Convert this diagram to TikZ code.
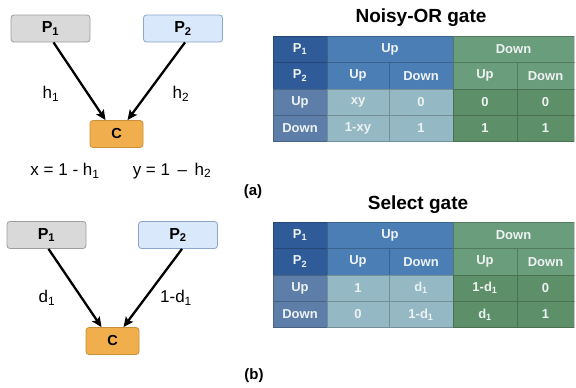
\documentclass[tikz,border=0pt]{standalone}
\usepackage{fontspec}
\setmainfont{Liberation Sans}
\usetikzlibrary{arrows.meta}
\definecolor{pgray}{HTML}{D9D9D9}
\definecolor{pgrayd}{HTML}{9E9E9E}
\definecolor{pblue}{HTML}{DAE8FC}
\definecolor{pblued}{HTML}{8DA5C8}
\definecolor{corange}{HTML}{F0AE4C}
\definecolor{coranged}{HTML}{C99138}
\definecolor{tcorner}{HTML}{2F5B98}
\definecolor{tuph}{HTML}{4A7EB4}
\definecolor{tdownh}{HTML}{6A9D7B}
\definecolor{trowh}{HTML}{5C7EA9}
\definecolor{tupb}{HTML}{94B9C4}
\definecolor{tdownb}{HTML}{5D9069}
\definecolor{ttext}{HTML}{EEF2F2}
\newcommand{\gtable}[9]{%
  \node[cell,fill=tcorner,minimum width=54] (#1p1) at (300,13.2) {P\textsubscript{1}};
  \node[cell,fill=tuph,minimum width=126] (#1up) at (390,13.2) {Up};
  \node[cell,fill=tdownh,minimum width=121] (#1down) at (513.5,13.2) {Down};
  \node[cell,fill=tcorner,minimum width=54] (#1p2) at (300,39.6) {P\textsubscript{2}};
  \node[cell,fill=tuph,minimum width=62] (#1uu) at (358,39.6) {Up};
  \node[cell,fill=tuph,minimum width=64] (#1ud) at (421,39.6) {Down};
  \node[cell,fill=tdownh,minimum width=64] (#1du) at (485,39.6) {Up};
  \node[cell,fill=tdownh,minimum width=57] (#1dd) at (545.5,39.6) {Down};
  \node[cell,fill=trowh,minimum width=54] (#1r1) at (300,66) {Up};
  \node[cell,fill=tupb,minimum width=62] (#1c11) at (358,66) {#2};
  \node[cell,fill=tupb,minimum width=64] (#1c12) at (421,66) {#3};
  \node[cell,fill=tdownb,minimum width=64] (#1c13) at (485,66) {#4};
  \node[cell,fill=tdownb,minimum width=57] (#1c14) at (545.5,66) {#5};
  \node[cell,fill=trowh,minimum width=54] (#1r2) at (300,92.4) {Down};
  \node[cell,fill=tupb,minimum width=62] (#1c21) at (358,92.4) {#6};
  \node[cell,fill=tupb,minimum width=64] (#1c22) at (421,92.4) {#7};
  \node[cell,fill=tdownb,minimum width=64] (#1c23) at (485,92.4) {#8};
  \node[cell,fill=tdownb,minimum width=57] (#1c24) at (545.5,92.4) {#9};
}
\begin{document}
\begin{tikzpicture}[x=1pt,y=-1pt,
  box/.style={draw, rounded corners=3pt, line width=0.8pt, minimum width=79, minimum height=27, inner sep=0pt, font=\bfseries\fontsize{16}{18}\selectfont},
  pone/.style={box, fill=pgray, draw=pgrayd},
  ptwo/.style={box, fill=pblue, draw=pblued},
  cbox/.style={box, fill=corange, draw=coranged, minimum width=53, font=\bfseries\fontsize{14.5}{16}\selectfont},
  lbl/.style={font=\fontsize{17}{19}\selectfont, inner sep=0pt},
  cell/.style={draw=black, draw opacity=0.22, line width=0.6pt, minimum height=26.4, inner sep=0pt, text=ttext, font=\bfseries\fontsize{13}{15}\selectfont},
  arr/.style={line width=2.3pt, -{Stealth[length=10pt,width=9pt,inset=2pt]}},
  ttl/.style={font=\bfseries\fontsize{19}{21}\selectfont, inner sep=0pt},
  sub/.style={font=\bfseries\fontsize{15}{17}\selectfont, inner sep=0pt}
]
\useasboundingbox[fill=white] (0,0) rectangle (576,388);
% ---- (a) Noisy-OR ----
\node[pone] (P1a) at (50.5,28.5) {P\textsubscript{1}};
\node[ptwo] (P2a) at (183,28.5) {P\textsubscript{2}};
\node[cbox] (Ca) at (116.5,134) {C};
\draw[arr] ([xshift=3]P1a.south) -- ([xshift=-11]Ca.north);
\draw[arr] ([xshift=2]P2a.south) -- ([xshift=11]Ca.north);
\node[lbl] (h1) at (51,94) {h\textsubscript{1}};
\node[lbl] (h2) at (181,94) {h\textsubscript{2}};
\node[lbl] (xeq) at (65,171) {x = 1 - h\textsubscript{1}};
\node[lbl] (yeq) at (172,171) {y = 1 \,–\, h\textsubscript{2}};
\node[sub] (la) at (253,192) {(a)};
\node[ttl] (ta) at (421,18) {Noisy-OR gate};
\begin{scope}[shift={(0,36)}]
\gtable{a}{xy}{0}{0}{0}{1-xy}{1}{1}{1}
\end{scope}
% ---- (b) Select ----
\node[pone] (P1b) at (46.5,235) {P\textsubscript{1}};
\node[ptwo] (P2b) at (178,235) {P\textsubscript{2}};
\node[cbox] (Cb) at (112.5,341) {C};
\draw[arr] ([xshift=2]P1b.south) -- ([xshift=-11]Cb.north);
\draw[arr] ([xshift=4]P2b.south) -- ([xshift=11]Cb.north);
\node[lbl] (d1) at (47,298) {d\textsubscript{1}};
\node[lbl] (d2) at (176,298) {1-d\textsubscript{1}};
\node[sub] (lb) at (254,376) {(b)};
\node[ttl] (tb) at (418,205) {Select gate};
\begin{scope}[shift={(0,222)}]
\gtable{b}{1}{d\textsubscript{1}}{1-d\textsubscript{1}}{0}{0}{1-d\textsubscript{1}}{d\textsubscript{1}}{1}
\end{scope}
\end{tikzpicture}
\end{document}
